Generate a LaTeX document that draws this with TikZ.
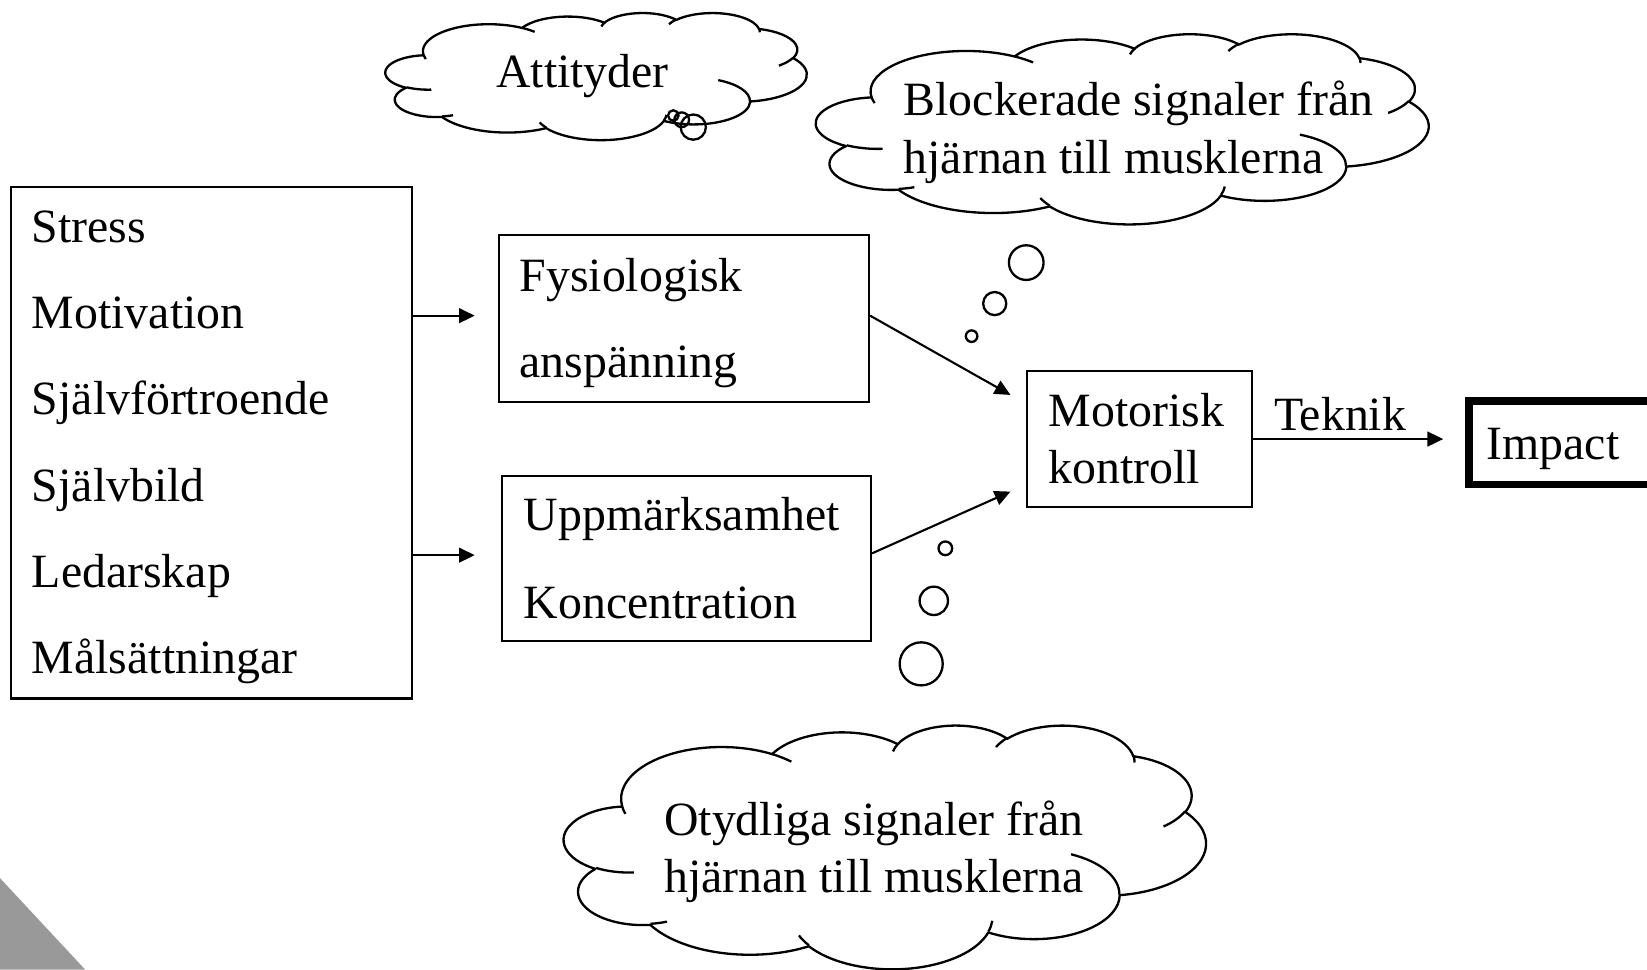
\documentclass[tikz,border=0pt]{standalone}
\usepackage{fontspec}
\setmainfont{Liberation Serif}
\usetikzlibrary{arrows.meta}
\definecolor{cornergrey}{HTML}{999999}
% OOXML arcTo (geometric angles) -> TikZ parametric arc
\newcommand\oocalc[4]{%
  \pgfmathparse{atan2((#1)*sin(#3),(#2)*cos(#3))}\xdef\oots{\pgfmathresult}%
  \pgfmathparse{atan2((#1)*sin(#3+#4),(#2)*cos(#3+#4))}\xdef\oote{\pgfmathresult}%
  \pgfmathparse{\oote-\oots}\xdef\oodl{\pgfmathresult}%
  \pgfmathparse{\oodl<0 ? \oodl+360 : \oodl}\xdef\oodl{\pgfmathresult}%
}
\def\ooarc#1#2#3#4{\pgfextra{\oocalc{#1}{#2}{#3}{#4}} arc[x radius=#1, y radius=#2, start angle=\oots, delta angle=\oodl]}
\newcommand\mycloud[4]{%
\begin{scope}[shift={(#1,#2)}, x={(#3*0.5pt/432,0pt)}, y={(0pt,-#4*0.5pt/432)}]
 \filldraw[cloudline] (39.00,143.70)
  \ooarc{67.53}{91.90}{-190.4875}{123.7805}
  \ooarc{53.33}{72.67}{-144.1024}{89.9452}
  \ooarc{43.65}{59.45}{-145.8079}{99.7230}
  \ooarc{48.57}{65.95}{-130.9861}{117.2417}
  \ooarc{53.33}{72.73}{-78.7089}{109.0269}
  \ooarc{67.75}{92.20}{-46.2673}{130.2690}
  \ooarc{57.85}{78.67}{0.6250}{114.0333}
  \ooarc{67.52}{92.15}{22.4516}{115.1726}
  \ooarc{77.20}{105.43}{66.2426}{75.7110}
  \ooarc{43.60}{59.18}{-274.9421}{146.7356}
  \ooarc{43.45}{59.45}{-246.8285}{152.5189}
  -- cycle;
 \draw[cloudline]
  (46.93,261.77) \ooarc{43.45}{59.45}{86.7420}{26.4295}
  (69.28,348.99) \ooarc{43.60}{59.18}{73.6105}{11.4475}
  (164.78,390.90) \ooarc{67.52}{92.15}{137.6242}{14.0811}
  (288.27,347.51) \ooarc{67.52}{92.15}{6.4533}{15.9984}
  (341.29,229.54) \ooarc{57.85}{78.67}{-70.2924}{70.9174}
  (417.98,153.54) \ooarc{53.33}{72.73}{30.3180}{27.7515}
  (383.24,54.26) \ooarc{48.57}{65.95}{-13.7443}{14.8589}
  (290.78,39.52) \ooarc{48.57}{65.95}{-149.1815}{18.1954}
  (221.41,47.20) \ooarc{43.65}{59.45}{-163.4943}{17.6864}
  (140.00,51.92) \ooarc{67.53}{91.90}{-66.7070}{12.3194}
  (41.27,157.89) \ooarc{67.53}{91.90}{157.6544}{11.8582};
\end{scope}}
\begin{document}
\begin{tikzpicture}[x=0.5pt,y=-0.5pt,
  txt/.style={font=\fontsize{22.75pt}{27pt}\selectfont, inner sep=0pt, anchor=base west},
  box/.style={draw, line width=1pt, inner sep=0pt},
  arr/.style={line width=1pt, -{Triangle[length=7.5pt,width=7pt]}},
  cloudline/.style={line width=1.1pt, line join=round, fill=white},
  bubble/.style={line width=1.1pt}]
\useasboundingbox (0,0) rectangle (1568,923);
% corner decoration
\fill[cornergrey] (0,836) -- (81,923) -- (0,923) -- cycle;
% boxes
\node[box, minimum width=191pt, minimum height=243.5pt] (factors) at (201.5,421.5) {};
\node[box, minimum width=176pt, minimum height=79.35pt] (fys) at (651.35,303.05) {};
\node[box, minimum width=175.5pt, minimum height=78.5pt] (upp) at (653.7,531.7) {};
\node[box, minimum width=107.1pt, minimum height=64.6pt] (motor) at (1085.1,417.8) {};
\begin{scope}
\clip (0,0) rectangle (1568,923);
\node[draw, line width=3.6pt, inner sep=0pt, minimum width=110.85pt, minimum height=39.8pt] (impact) at (1509.15,421.5) {};
\end{scope}
% texts in boxes
\node[txt] (t1) at (30,231) {Stress};
\node[txt] (t2) at (30,313) {Motivation};
\node[txt] (t3) at (30,395) {Självförtroende};
\node[txt] (t4) at (30,477.5) {Självbild};
\node[txt] (t5) at (30,559.5) {Ledarskap};
\node[txt] (t6) at (30,641) {Målsättningar};
\node[txt] (f1) at (494.4,277.7) {Fysiologisk};
\node[txt] (f2) at (494.4,359.5) {anspänning};
\node[txt] (u1) at (498.2,504.6) {Uppmärksamhet};
\node[txt] (u2) at (498.2,588.7) {Koncentration};
\node[txt] (m1t) at (998,406.2) {Motorisk};
\node[txt] (m2t) at (998,460.1) {kontroll};
\node[txt] (it) at (1415,437) {Impact};
% connectors
\coordinate (a1) at (452,300.5);
\coordinate (a2) at (452,528.5);
\coordinate (mA) at (962,376);
\coordinate (mB) at (962,468);
\coordinate (tk) at (1374,418);
\draw[arr] (factors.east |- a1) -- (a1);
\draw[arr] (factors.east |- a2) -- (a2);
\draw[arr] (fys.east |- a1) -- (mA);
\draw[arr] (upp.east |- 0,526.8) -- (mB);
\draw[arr] (motor.east |- tk) -- (tk);
\node[txt] (tek) at (1212.5,409.4) {Teknik};
% clouds
\mycloud{367}{12}{401}{121}
\mycloud{777}{32}{583}{181}
\mycloud{537}{690}{611}{232}
\node[txt] (c1) at (472,83) {Attityder};
\node[txt] (c2a) at (860,110) {Blockerade signaler från};
\node[txt] (c2b) at (860,165) {hjärnan till musklerna};
\node[txt] (c3a) at (632,795) {Otydliga signaler från};
\node[txt] (c3b) at (632,850) {hjärnan till musklerna};
% thought bubbles
\draw[bubble] (641,110) circle[radius=5];
\draw[bubble] (649,114) circle[radius=7];
\draw[bubble] (660,121) circle[radius=12];
\draw[bubble] (977,250) circle[radius=16.5];
\draw[bubble] (947,289) circle[radius=11];
\draw[bubble] (925,320) circle[radius=5.5];
\draw[bubble] (900,522) circle[radius=6.5];
\draw[bubble] (889,572) circle[radius=13.5];
\draw[bubble] (877,632) circle[radius=20.5];
\end{tikzpicture}
\end{document}
